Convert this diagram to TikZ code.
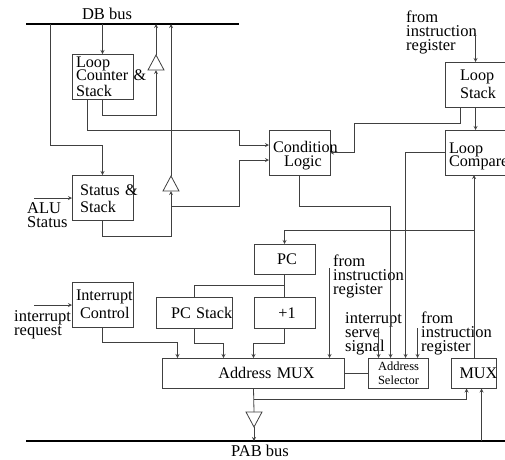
\documentclass[tikz,border=0pt]{standalone}
\usepackage{fontspec}
\setmainfont{Liberation Serif}
\usetikzlibrary{shapes,arrows,positioning}
\definecolor{wiregray}{gray}{0.25}
\newcommand{\topgap}[1]{\rule{0pt}{#1}}

\begin{document}
\begin{tikzpicture}[
      x=1pt, y=-1pt,
      node distance=23pt and 23pt,
      box/.style={rectangle, draw=wiregray, line width=0.8pt, outer sep=0pt, align=left, font=\fontsize{16.2pt}{14pt}\selectfont, inner ysep=0pt, inner xsep=4pt, text width=53pt, minimum height=45pt},
      lowbox/.style={box, minimum height=30.5pt},
      note/.style={inner sep=0pt, align=left, font=\fontsize{16.5pt}{14pt}\selectfont},
      buffer/.style={isosceles triangle, isosceles triangle stretches, draw=wiregray, line width=0.8pt, inner sep=0pt, outer sep=0pt, minimum height=15pt, minimum width=16pt},
      wire/.style={draw=wiregray, line width=0.8pt},
      arrow/.style={wire, ->, >=stealth},
      bus/.style={line width=2.6pt}
    ]
      \useasboundingbox (0,0) rectangle (505,459);

      \node[box] (loopcnt) at (102.5,76.5) {\topgap{11pt}Loop\\[-2pt]\mbox{Counter \&}\\[2pt]Stack};
      \node[box, below=76pt of loopcnt, inner xsep=8pt, text width=45pt] (status) {\topgap{14pt}\mbox{Status \&}\\[3pt]Stack};
      \node[box, right=136pt of status, yshift=45pt, align=center, inner xsep=0pt, text width=61pt] (cond) {\topgap{17pt}\mbox{\hspace{4pt}Condition}\\\hspace{7pt}Logic};
      \node[box, right=115pt of cond, yshift=68pt, inner xsep=15pt, text width=31pt] (loopstk) {Loop\\[2pt]Stack};
      \node[box, below=of loopstk] (loopcmp) {\topgap{18pt}Loop\\[-2pt]\mbox{Compare}};

      \node[lowbox, below=69pt of cond, xshift=-15pt, align=center, inner xsep=0pt, text width=61pt] (pc) {\hspace{5pt}PC};
      \node[lowbox, below=of pc, align=center, inner xsep=0pt, text width=61pt] (incr) {\hspace{5pt}+1};
      \node[lowbox, left=22pt of incr, inner xsep=15pt, text width=46pt] (pcstk) {\mbox{PC Stack}};
      \node[box, below=62pt of status] (intctl) {\mbox{Interrupt}\\[2pt]\mbox{\hspace{4pt}Control}};

      \node[lowbox, below=30pt of incr, xshift=-31pt, align=center, inner xsep=0pt, text width=182pt] (addrmux) {\hspace{26pt}Address MUX};
      \node[lowbox, right=24pt of addrmux, align=center, inner xsep=0pt, text width=60pt, font=\fontsize{12.5pt}{14pt}\selectfont] (addrsel) {Address\\Selector};
      \node[lowbox, right=of addrsel, inner xsep=8pt, text width=29pt] (mux) {\mbox{MUX}};

      \node[buffer, shape border rotate=90, anchor=apex] (cntbuf) at (156,55) {};
      \node[buffer, shape border rotate=90, anchor=apex] (statbuf) at (171,176) {};
      \node[buffer, shape border rotate=270, anchor=apex] (outbuf) at (254,427) {};

      \node[note, anchor=north] (dbtext) at (107,8) {DB bus};
      \node[note, anchor=north] (pabtext) at (260,445) {PAB bus};
      \node[note, anchor=north west] (alutext) at (27,202) {ALU\\Status};
      \node[note, anchor=north west] (reqtext) at (14,310) {interrupt\\request};
      \node[note, anchor=north west] (fromtop) at (406,11) {from\\instruction\\register};
      \node[note, anchor=north west] (frommid) at (333,255) {from\\instruction\\register};
      \node[note, anchor=north west] (fromlow) at (421,312) {from\\instruction\\register};
      \node[note, anchor=north west] (servetext) at (345,312) {interrupt\\serve\\signal};

      \coordinate (dbl) at (26,24);
      \coordinate (dbr) at (239,24);
      \coordinate (pabl) at (26,441);
      \coordinate (pabr) at (505,441);
      \coordinate (dbtap) at (50,24);
      \coordinate (aluin) at (34,198);
      \coordinate (reqin) at (34,305);
      \coordinate[above=29pt of loopstk.north] (stackin);
      \coordinate (condina) at ([yshift=7.5pt]cond.west);
      \coordinate (condinb) at ([yshift=-7.5pt]cond.west);
      \coordinate (statsplit) at ([yshift=-15pt]statbuf.lower side);
      \coordinate (muxsplit) at ([yshift=128pt]mux.north);
      \coordinate (muxin) at ([yshift=-11pt]addrmux.south);
      \coordinate (amuxin) at ([xshift=76pt,yshift=90pt]addrmux.north);
      \coordinate (servein) at ([xshift=-20pt,yshift=30pt]addrsel.north);
      \coordinate (fromin) at ([xshift=19pt,yshift=30pt]addrsel.north);

      \draw[bus] (dbl) -- (dbr);
      \draw[bus] (pabl) -- (pabr);

      \draw[arrow] (loopcnt.north |- dbl) -- (loopcnt.north);
      \draw[arrow] (loopcnt.south) -- ++(0,16) -| (cntbuf.lower side);
      \draw[arrow] (cntbuf.apex) -- (cntbuf.apex |- dbl);
      \draw[wire] ([xshift=-15pt]loopcnt.south) -- ++(0,31) -| ([xshift=-30pt]condina);
      \draw[arrow] ([xshift=-30pt]condina) -- (condina);
      \draw[arrow] (dbtap) -- ++(0,121) -| (status.north);
      \draw[arrow] (status.south) -- ++(0,16) -| (statbuf.lower side);
      \draw[arrow] (statbuf.apex) -- (statbuf.apex |- dbl);
      \draw[arrow] (statsplit) -| ([xshift=-30pt]condinb) -- (condinb);
      \draw[arrow] (aluin) -- (aluin -| status.west);

      \draw[arrow] (stackin) -- (loopstk.north);
      \draw[arrow] (loopstk.south) -- (loopcmp.north);
      \draw[arrow] ([xshift=-15pt]loopstk.south) -- ++(0,16) -| ([xshift=24pt]cond.east) -- (cond.east);
      \draw[arrow] (loopcmp.west) -| ([xshift=7pt]addrsel.north);
      \draw[arrow] (cond.south) -- ++(0,31) -| ([xshift=-8pt]addrsel.north);
      \draw[arrow] (mux.north) -- (mux.north |- loopcmp.south);
      \draw[arrow] (muxsplit) -| (pc.north);

      \draw[wire] (pc.south) -- (incr.north);
      \draw[wire] (pc.south) -- ++(0,11) -| (pcstk.north);
      \draw[arrow] (incr.south) -- ++(0,15) -| (addrmux.north);
      \draw[arrow] (pcstk.south) -- ++(0,15) -| ([xshift=-30pt]addrmux.north);
      \draw[arrow] (intctl.south) -- ++(0,15) -| ([xshift=-76pt]addrmux.north);
      \draw[arrow] (reqin) -- (reqin -| intctl.west);

      \draw[arrow] (amuxin) -- (amuxin |- addrmux.north);
      \draw[arrow] (servein) -- (servein |- addrsel.north);
      \draw[arrow] (fromin) -- (fromin |- addrsel.north);
      \draw[wire] (addrmux.east) -- (addrsel.west);
      \draw[wire] (addrmux.south) -- (outbuf.lower side);
      \draw[arrow] (outbuf.apex) -- (outbuf.apex |- pabl);
      \draw[arrow] (muxin) -| ([xshift=-7.5pt]mux.south);
      \draw[arrow] ([xshift=7.5pt]mux.south |- pabl) -- ([xshift=7.5pt]mux.south);
    \end{tikzpicture}
\end{document}
